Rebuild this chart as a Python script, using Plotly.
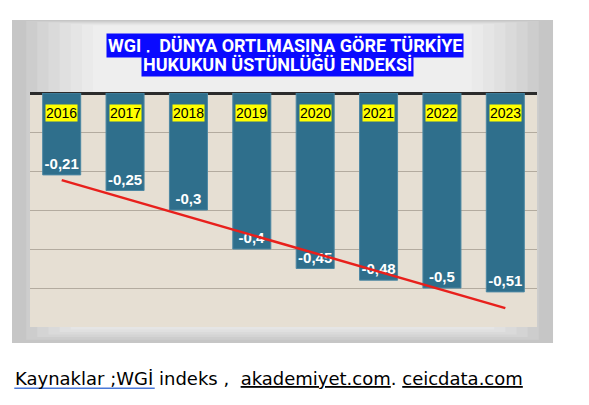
import numpy as np
import plotly.graph_objects as go

# WGI hukukun üstünlüğü endeksi, Türkiye
years = [2016, 2017, 2018, 2019, 2020, 2021, 2022, 2023]
values = [-0.21, -0.25, -0.3, -0.4, -0.45, -0.48, -0.5, -0.51]
value_labels = ['-0,21', '-0,25', '-0,3', '-0,4', '-0,45', '-0,48', '-0,5', '-0,51']

title_lines = ['WGI ,  DÜNYA ORTLMASINA GÖRE TÜRKİYE', 'HUKUKUN ÜSTÜNLÜĞÜ ENDEKSİ']

# linear trend of the series
slope, icpt = np.polyfit(years, values, 1)
trend_x = [years[0], years[-1]]
trend_y = [slope * x + icpt for x in trend_x]

fig = go.Figure()
fig.add_trace(go.Bar(x=years, y=values,
                     text=value_labels, texttemplate='<b>%{text}</b>',
                     textposition='inside', insidetextanchor='end', textangle=0,
                     constraintext='none',
                     textfont=dict(family='Liberation Sans, Arial', size=15, color='white'),
                     marker=dict(color='#2f6f8c', line=dict(color='#4d88a3', width=1)),
                     width=0.6,
                     hoverinfo='skip'))
fig.add_trace(go.Scatter(x=trend_x, y=trend_y,
                         mode='lines', line=dict(color='#e8201c', width=2.5),
                         hoverinfo='skip'))

# year tags at the top of each bar
for yr in years:
    fig.add_annotation(x=yr, y=0, yref='y', yanchor='top', yshift=-11,
                       text=str(yr), showarrow=False, bgcolor='#ffff00', borderpad=0,
                       font=dict(family='Liberation Sans, Arial', size=14, color='black'))

# two-line title on blue boxes
fig.add_annotation(x=0.502, y=1.205, xref='paper', yref='paper', yanchor='middle',
                   text='<b>' + title_lines[0] + '</b>', showarrow=False,
                   bgcolor='#0a0aff', borderpad=1,
                   font=dict(family='Roboto', size=18, color='white'))
fig.add_annotation(x=0.489, y=1.123, xref='paper', yref='paper', yanchor='middle',
                   text='<b>' + title_lines[1] + '</b>', showarrow=False,
                   bgcolor='#0a0aff', borderpad=1,
                   font=dict(family='Roboto', size=18, color='white'))

# source line under the panel
src = ('Kaynaklar ;WGİ indeks ,  '
       '<span style="text-decoration:underline">akademiyet.com</span>. '
       '<span style="text-decoration:underline">ceicdata.com</span>')
fig.add_annotation(x=-0.034, y=-0.218, xref='paper', yref='paper', xanchor='left', yanchor='middle',
                   text=src, showarrow=False,
                   font=dict(family='DejaVu Sans, Verdana', size=18, color='black'))
# blue link underline under the first words
fig.add_shape(type='line', xref='paper', yref='paper', x0=-0.031, x1=0.246, y0=-0.262, y1=-0.262,
              line=dict(color='#4a78d8', width=1.5))

# grey panel, lighter towards the top middle, then the beige plot area
panel = ['#c6c6c6', '#cdcdcd', '#d4d4d4', '#dadada', '#e0e0e0', '#e5e5e5', '#eaeaea', '#eeeeee']
for i, col in enumerate(panel):
    ins = 0.006 + 0.022 * i if i else 0
    fig.add_shape(type='rect', xref='paper', yref='paper', layer='below',
                  x0=-0.0355 + ins, x1=1.0316 - ins, y0=-0.068 + ins * 0.5, y1=1.312 - ins * 0.15,
                  fillcolor=col, line_width=0)
fig.add_shape(type='rect', xref='paper', yref='paper', layer='below',
              x0=0, x1=1, y0=0, y1=1, fillcolor='#e6dfd3', line_width=0)

fig.update_layout(width=589, height=405,
                  margin=dict(l=22, r=60, t=85, b=86),
                  paper_bgcolor='white', plot_bgcolor='#e6dfd3',
                  showlegend=False)
fig.update_xaxes(range=[2015.5, 2023.5], showticklabels=False, showgrid=False, ticks='',
                 zeroline=False)
fig.update_yaxes(range=[-0.6, 0], dtick=0.1, showticklabels=False, ticks='',
                 showgrid=True, gridcolor='#b3ab9f', gridwidth=1,
                 zeroline=True, zerolinecolor='#2b2b2b', zerolinewidth=2.5,
                 showline=False)

fig.write_html("out.html")
